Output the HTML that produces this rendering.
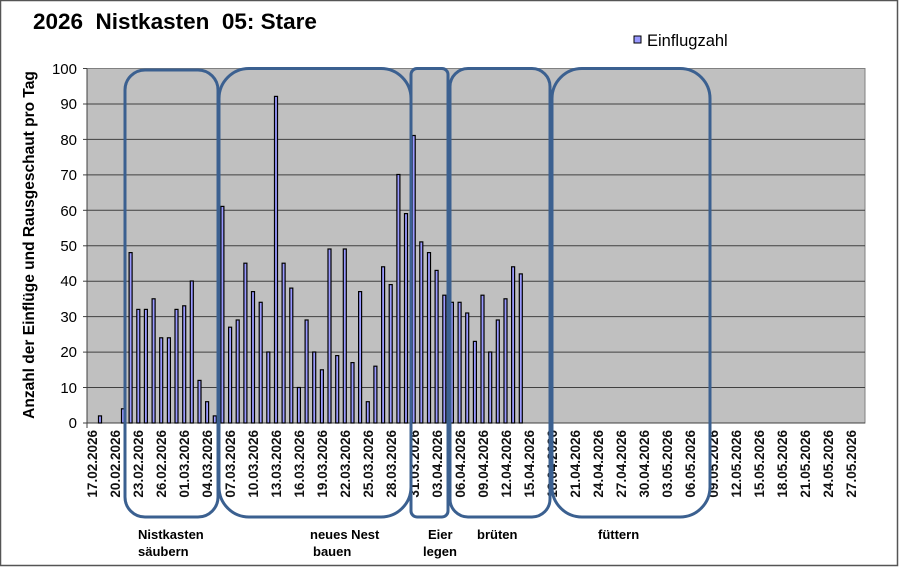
<!DOCTYPE html>
<html><head><meta charset="utf-8"><style>
html,body{margin:0;padding:0;background:#fff}
svg{display:block;font-family:"Liberation Sans",Arial,sans-serif}
</style></head><body>
<svg width="900" height="567" viewBox="0 0 900 567" xmlns="http://www.w3.org/2000/svg">
<rect x="0.5" y="0.5" width="897" height="565" fill="#fff" stroke="#555" stroke-width="1.5"/>
<text x="33" y="29" font-size="22.5" font-weight="bold" xml:space="preserve">2026  Nistkasten  05: Stare</text>
<rect x="634" y="36" width="7" height="7" fill="#9999ff" stroke="#000" stroke-width="1"/>
<text x="647" y="46" font-size="16.5">Einflugzahl</text>
<rect x="87" y="68.5" width="778" height="354.5" fill="#c0c0c0" stroke="#808080" stroke-width="1"/>
<g stroke="#404040" stroke-width="1">
<line x1="87" y1="104" x2="865" y2="104"/><line x1="87" y1="139.4" x2="865" y2="139.4"/>
<line x1="87" y1="174.9" x2="865" y2="174.9"/><line x1="87" y1="210.3" x2="865" y2="210.3"/>
<line x1="87" y1="245.8" x2="865" y2="245.8"/><line x1="87" y1="281.2" x2="865" y2="281.2"/>
<line x1="87" y1="316.6" x2="865" y2="316.6"/><line x1="87" y1="352.1" x2="865" y2="352.1"/>
<line x1="87" y1="387.5" x2="865" y2="387.5"/>
<line x1="87" y1="68.5" x2="87" y2="423"/><line x1="83" y1="423" x2="865" y2="423"/>
<line x1="83" y1="68.5" x2="87" y2="68.5"/><line x1="83" y1="104" x2="87" y2="104"/><line x1="83" y1="139.4" x2="87" y2="139.4"/><line x1="83" y1="174.9" x2="87" y2="174.9"/><line x1="83" y1="210.3" x2="87" y2="210.3"/><line x1="83" y1="245.8" x2="87" y2="245.8"/><line x1="83" y1="281.2" x2="87" y2="281.2"/><line x1="83" y1="316.6" x2="87" y2="316.6"/><line x1="83" y1="352.1" x2="87" y2="352.1"/><line x1="83" y1="387.5" x2="87" y2="387.5"/>
</g>
<g font-size="15" text-anchor="end">
<text x="77" y="74">100</text><text x="77" y="109">90</text><text x="77" y="145">80</text><text x="77" y="180">70</text><text x="77" y="216">60</text><text x="77" y="251">50</text><text x="77" y="286">40</text><text x="77" y="322">30</text><text x="77" y="357">20</text><text x="77" y="393">10</text><text x="77" y="428">0</text>
</g>
<text transform="translate(34,245) rotate(-90)" font-size="15.5" font-weight="bold" text-anchor="middle">Anzahl der Einflüge und Rausgeschaut pro Tag</text>
<g fill="#9999ff" stroke="#000" stroke-width="1.2" transform="translate(2,0)">
<rect x="96.5" y="415.9" width="3" height="7.1"/>
<rect x="119.5" y="408.8" width="3" height="14.2"/>
<rect x="127.1" y="252.6" width="3" height="170.4"/>
<rect x="134.8" y="309.4" width="3" height="113.6"/>
<rect x="142.4" y="309.4" width="3" height="113.6"/>
<rect x="150.1" y="298.8" width="3" height="124.2"/>
<rect x="157.7" y="337.8" width="3" height="85.2"/>
<rect x="165.4" y="337.8" width="3" height="85.2"/>
<rect x="173" y="309.4" width="3" height="113.6"/>
<rect x="180.7" y="305.8" width="3" height="117.2"/>
<rect x="188.3" y="281" width="3" height="142"/>
<rect x="196" y="380.4" width="3" height="42.6"/>
<rect x="203.6" y="401.7" width="3" height="21.3"/>
<rect x="211.3" y="415.9" width="3" height="7.1"/>
<rect x="218.9" y="206.4" width="3" height="216.6"/>
<rect x="226.6" y="327.2" width="3" height="95.8"/>
<rect x="234.2" y="320" width="3" height="103"/>
<rect x="241.9" y="263.2" width="3" height="159.8"/>
<rect x="249.5" y="291.6" width="3" height="131.4"/>
<rect x="257.2" y="302.3" width="3" height="120.7"/>
<rect x="264.8" y="352" width="3" height="71"/>
<rect x="272.5" y="96.4" width="3" height="326.6"/>
<rect x="280.1" y="263.2" width="3" height="159.8"/>
<rect x="287.8" y="288.1" width="3" height="134.9"/>
<rect x="295.4" y="387.5" width="3" height="35.5"/>
<rect x="303.1" y="320" width="3" height="103"/>
<rect x="310.7" y="352" width="3" height="71"/>
<rect x="318.4" y="369.8" width="3" height="53.2"/>
<rect x="326" y="249" width="3" height="174"/>
<rect x="333.7" y="355.6" width="3" height="67.4"/>
<rect x="341.3" y="249" width="3" height="174"/>
<rect x="349" y="362.6" width="3" height="60.4"/>
<rect x="356.6" y="291.6" width="3" height="131.4"/>
<rect x="364.3" y="401.7" width="3" height="21.3"/>
<rect x="371.9" y="366.2" width="3" height="56.8"/>
<rect x="379.6" y="266.8" width="3" height="156.2"/>
<rect x="387.2" y="284.6" width="3" height="138.4"/>
<rect x="394.9" y="174.5" width="3" height="248.5"/>
<rect x="402.5" y="213.6" width="3" height="209.4"/>
<rect x="410.2" y="135.5" width="3" height="287.5"/>
<rect x="417.8" y="241.9" width="3" height="181.1"/>
<rect x="425.5" y="252.6" width="3" height="170.4"/>
<rect x="433.1" y="270.4" width="3" height="152.6"/>
<rect x="440.8" y="295.2" width="3" height="127.8"/>
<rect x="448.4" y="302.3" width="3" height="120.7"/>
<rect x="456.1" y="302.3" width="3" height="120.7"/>
<rect x="463.7" y="313" width="3" height="110"/>
<rect x="471.4" y="341.4" width="3" height="81.6"/>
<rect x="479" y="295.2" width="3" height="127.8"/>
<rect x="486.7" y="352" width="3" height="71"/>
<rect x="494.3" y="320" width="3" height="103"/>
<rect x="502" y="298.8" width="3" height="124.2"/>
<rect x="509.6" y="266.8" width="3" height="156.2"/>
<rect x="517.3" y="273.9" width="3" height="149.1"/>
</g>
<g stroke="#404040" stroke-width="1">
<line x1="87" y1="423" x2="87" y2="428"/>
</g>
<g font-size="13.5" font-weight="bold" text-anchor="end" fill="#111">
<text transform="translate(97,430) rotate(-90)">17.02.2026</text>
<text transform="translate(120,430) rotate(-90)">20.02.2026</text>
<text transform="translate(143,430) rotate(-90)">23.02.2026</text>
<text transform="translate(166,430) rotate(-90)">26.02.2026</text>
<text transform="translate(189,430) rotate(-90)">01.03.2026</text>
<text transform="translate(212,430) rotate(-90)">04.03.2026</text>
<text transform="translate(235,430) rotate(-90)">07.03.2026</text>
<text transform="translate(258,430) rotate(-90)">10.03.2026</text>
<text transform="translate(281,430) rotate(-90)">13.03.2026</text>
<text transform="translate(304,430) rotate(-90)">16.03.2026</text>
<text transform="translate(327,430) rotate(-90)">19.03.2026</text>
<text transform="translate(350,430) rotate(-90)">22.03.2026</text>
<text transform="translate(373,430) rotate(-90)">25.03.2026</text>
<text transform="translate(396,430) rotate(-90)">28.03.2026</text>
<text transform="translate(419,430) rotate(-90)">31.03.2026</text>
<text transform="translate(442,430) rotate(-90)">03.04.2026</text>
<text transform="translate(465,430) rotate(-90)">06.04.2026</text>
<text transform="translate(488,430) rotate(-90)">09.04.2026</text>
<text transform="translate(511,430) rotate(-90)">12.04.2026</text>
<text transform="translate(534,430) rotate(-90)">15.04.2026</text>
<text transform="translate(557,430) rotate(-90)">18.04.2026</text>
<text transform="translate(580,430) rotate(-90)">21.04.2026</text>
<text transform="translate(603,430) rotate(-90)">24.04.2026</text>
<text transform="translate(626,430) rotate(-90)">27.04.2026</text>
<text transform="translate(649,430) rotate(-90)">30.04.2026</text>
<text transform="translate(672,430) rotate(-90)">03.05.2026</text>
<text transform="translate(695,430) rotate(-90)">06.05.2026</text>
<text transform="translate(718,430) rotate(-90)">09.05.2026</text>
<text transform="translate(741,430) rotate(-90)">12.05.2026</text>
<text transform="translate(764,430) rotate(-90)">15.05.2026</text>
<text transform="translate(787,430) rotate(-90)">18.05.2026</text>
<text transform="translate(810,430) rotate(-90)">21.05.2026</text>
<text transform="translate(833,430) rotate(-90)">24.05.2026</text>
<text transform="translate(856,430) rotate(-90)">27.05.2026</text>
</g>
<g fill="none" stroke="#3b6090" stroke-width="3">
<rect x="125" y="70" width="93" height="447" rx="20" ry="20"/>
<rect x="219" y="68.5" width="192" height="448.5" rx="30" ry="30"/>
<rect x="411" y="68.5" width="37" height="448.5" rx="6" ry="6"/>
<rect x="450" y="68.5" width="100" height="448.5" rx="18" ry="18"/>
<rect x="552" y="68.5" width="158" height="448.5" rx="30" ry="30"/>
</g>
<g font-size="13" font-weight="bold">
<text x="138" y="539">Nistkasten</text>
<text x="138" y="556">säubern</text>
<text x="310" y="539">neues Nest</text>
<text x="313" y="556">bauen</text>
<text x="428" y="539">Eier</text>
<text x="423" y="556">legen</text>
<text x="477" y="539">brüten</text>
<text x="598" y="539">füttern</text>
</g>
</svg>
</body></html>
